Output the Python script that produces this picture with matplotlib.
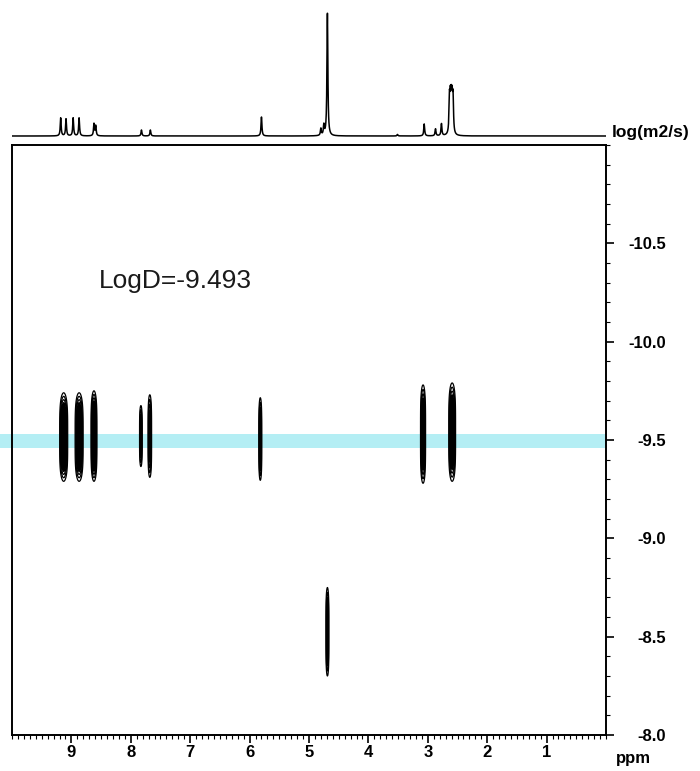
import numpy as np
import matplotlib
matplotlib.use('Agg')
import matplotlib.pyplot as plt
from matplotlib.ticker import MultipleLocator

plt.rcParams['font.family'] = ['Liberation Sans', 'DejaVu Sans']

# === 1D proton spectrum (top trace): peak positions / heights ===
spec_ppm = [9.18, 9.09, 8.97, 8.87, 8.62, 8.59, 7.82, 7.67, 5.80,
            4.80, 4.75, 4.69, 3.51, 3.06, 2.87, 2.77,
            2.635, 2.62, 2.605, 2.59, 2.575]
spec_height = [18, 17, 18, 18, 12, 10, 6, 6, 19,
               7, 10, 123, 1.5, 12, 7, 12,
               34, 30, 30, 30, 34]

# === DOSY cross peaks: ppm, log D centre, half-length in log D, full width (ppm) ===
cont_ppm = [9.13, 8.87, 8.62, 7.83, 7.68, 5.82, 3.08, 2.59, 4.69]
cont_logd = [-9.515, -9.515, -9.52, -9.52, -9.52, -9.505, -9.53, -9.54, -8.525]
cont_half = [0.225, 0.225, 0.23, 0.155, 0.21, 0.21, 0.25, 0.25, 0.225]
cont_width = [0.135, 0.135, 0.10, 0.045, 0.06, 0.05, 0.085, 0.115, 0.05]
cont_amp = [1.0, 1.0, 1.0, 0.5, 0.6, 0.6, 0.8, 0.9, 0.6]

logd_value = -9.493
x_ticks = [9, 8, 7, 6, 5, 4, 3, 2, 1]
y_ticks = [-10.5, -10.0, -9.5, -9.0, -8.5, -8.0]

W, H = 700, 771
fig = plt.figure(figsize=(7.0, 7.71), dpi=100)

# main panel: 12..606 px wide, 145..735 px tall
ax = fig.add_axes([12 / W, 1 - 735 / H, 594 / W, 590 / H])
ax_top = fig.add_axes([12 / W, 1 - 139 / H, 594 / W, 133 / H])

# --- top spectrum ---
xs = np.linspace(0, 10.0, 8000)
gam = 0.009
spec = np.zeros_like(xs)
for p, h in zip(spec_ppm, spec_height):
    spec += h / (1 + ((xs - p) / gam) ** 2)
ax_top.plot(xs, spec, color='black', lw=1.1)
ax_top.set_xlim(10.0, 0)
ax_top.set_ylim(-3, 130)
ax_top.axis('off')

# --- contour map ---
gx = np.linspace(0, 10, 2400)
gy = np.linspace(-11, -8, 700)
X, Y = np.meshgrid(gx, gy)
Z = np.zeros_like(X)
lo = 0.12
for p, d, hl, w, a in zip(cont_ppm, cont_logd, cont_half, cont_width, cont_amp):
    r = np.log(a / lo)
    wx = (w / 2) / np.sqrt(r)
    ly = hl / r ** (1 / 4)
    Z = np.maximum(Z, a * np.exp(-((X - p) / wx) ** 2) * np.exp(-((Y - d) / ly) ** 4))

ax.axhspan(logd_value - 0.036, logd_value + 0.036, xmin=-0.02, xmax=1,
           color='#b4eef4', zorder=1, clip_on=False, lw=0)
ax.contour(X, Y, Z, levels=[0.12, 0.22, 0.34, 0.46, 0.6, 0.75, 0.9],
           colors='black', linewidths=0.9, zorder=2)
ax.contourf(X, Y, Z, levels=[0.5, 2], colors='black', zorder=2)

ax.text(8.54, -10.31, 'LogD=-9.493', fontsize=19, color='#1a1a1a',
        ha='left', va='center')

# log D axis runs from -11 (top) to -8 (bottom)
ax.set_xlim(10, 0)
ax.set_ylim(-8, -11)

ax.set_xticks(x_ticks)
ax.set_xticklabels([str(t) for t in x_ticks])
ax.xaxis.set_minor_locator(MultipleLocator(0.1))
ax.yaxis.tick_right()
ax.set_yticks(y_ticks)
ax.set_yticklabels(['%.1f' % t for t in y_ticks])
ax.yaxis.set_minor_locator(MultipleLocator(0.1))

ax.tick_params(axis='x', which='major', direction='out', length=6, width=1.2,
               pad=1, labelsize=12)
ax.tick_params(axis='x', which='minor', direction='out', length=3, width=0.8)
ax.tick_params(axis='y', which='major', direction='out', length=6, width=1.2,
               pad=37, labelsize=12)
ax.tick_params(axis='y', which='minor', direction='out', length=3, width=0.8)
for lab in ax.get_yticklabels():
    lab.set_horizontalalignment('right')
for lab in ax.get_xticklabels() + ax.get_yticklabels():
    lab.set_fontweight('bold')
for s in ax.spines.values():
    s.set_linewidth(1.4)

fig.text(612 / W, 1 - 133 / H, 'log(m2/s)', fontsize=12.5, fontweight='bold',
         ha='left', va='center')
fig.text(633 / W, 1 - 758 / H, 'ppm', fontsize=12, fontweight='bold',
         ha='center', va='center')

fig.savefig('out.png', dpi=100)
